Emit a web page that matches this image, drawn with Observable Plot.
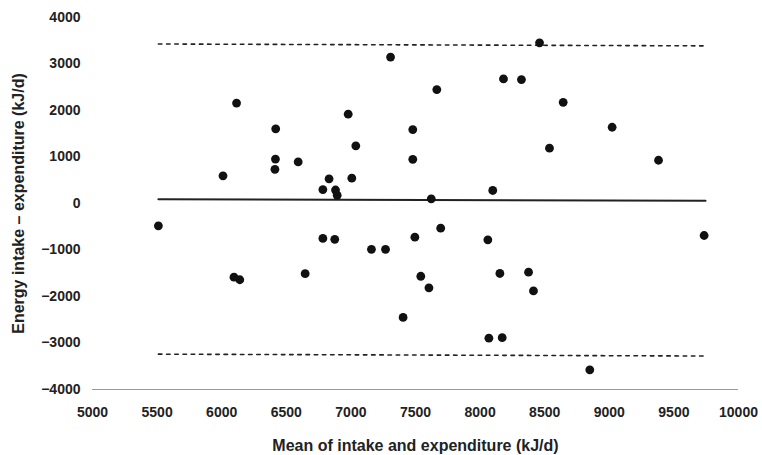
<!DOCTYPE html>
<html>
<head>
<meta charset="utf-8">
<script src="https://cdn.jsdelivr.net/npm/d3@7"></script>
<script src="https://cdn.jsdelivr.net/npm/@observablehq/plot@0.6"></script>
<style>
  html, body { margin: 0; padding: 0; background: #fff; }
  #chart { width: 762px; height: 455px; }
</style>
</head>
<body>
<div id="chart"></div>
<script>
// Mean of intake and expenditure (kJ/d)
const meanIntakeExpenditure = [
  5510, 6010, 6115, 6095, 6140, 6418, 6416, 6412, 6592, 6646,
  6783, 6831, 6881, 6894, 6979, 7007, 7038, 6783, 6875, 7159,
  7268, 7307, 7404, 7479, 7479, 7495, 7541, 7604, 7622, 7665,
  7695, 8060, 8068, 8098, 8153, 8171, 8181, 8320, 8375, 8413,
  8460, 8537, 8643, 8849, 9022, 9381, 9734
];
// Energy intake - expenditure (kJ/d)
const intakeMinusExpenditure = [
  -480, 595, 2160, -1585, -1640, 1605, 955, 735, 895, -1510,
  300, 530, 290, 175, 1920, 545, 1240, -750, -770, -985,
  -985, 3150, -2450, 1590, 950, -724, -1565, -1814, 100, 2450,
  -530, -782, -2896, 280, -1505, -2885, 2680, 2665, -1477, -1880,
  3455, 1190, 2175, -3577, 1640, 930, -688
];
// Reference lines (mean difference and limits of agreement), endpoints
const lineX = [5510, 9745];
const meanLine = [90, 60];
const upperLimit = [3430, 3390];
const lowerLimit = [-3240, -3280];

const xTicks = [5000, 5500, 6000, 6500, 7000, 7500, 8000, 8500, 9000, 9500, 10000];
const yTicks = [-4000, -3000, -2000, -1000, 0, 1000, 2000, 3000, 4000];
const xTitle = "Mean of intake and expenditure (kJ/d)";
const yTitle = "Energy intake \u2013 expenditure (kJ/d)";

const points = meanIntakeExpenditure.map((x, i) => ({x, y: intakeMinusExpenditure[i]}));

const chart = Plot.plot({
  width: 762,
  height: 455,
  marginLeft: 92,
  marginRight: 24,
  marginTop: 17,
  marginBottom: 66,
  style: {
    fontFamily: "'Liberation Sans', Arial, sans-serif",
    fontWeight: "bold",
    fontSize: "14px",
    color: "#222",
    background: "#fff"
  },
  x: {domain: [5000, 10000], ticks: xTicks, tickFormat: d => String(d), tickSize: 0, tickPadding: 18, label: null},
  y: {domain: [-4000, 4000], ticks: yTicks, tickFormat: d => (d < 0 ? "\u2212" + Math.abs(d) : String(d)), tickSize: 0, tickPadding: 12, label: null},
  marks: [
    Plot.ruleY([-4000], {stroke: "#9a9a9a", strokeWidth: 1.2}),
    Plot.line(lineX, {x: lineX, y: upperLimit, stroke: "#222", strokeWidth: 1.6, strokeDasharray: "3.5 4.7"}),
    Plot.line(lineX, {x: lineX, y: lowerLimit, stroke: "#222", strokeWidth: 1.6, strokeDasharray: "3.5 4.7"}),
    Plot.line(lineX, {x: lineX, y: meanLine, stroke: "#222", strokeWidth: 2}),
    Plot.dot(points, {x: "x", y: "y", r: 4.4, fill: "#111", stroke: "none"}),
    Plot.text([xTitle], {frameAnchor: "bottom", dy: 56, text: d => d, textAnchor: "middle", lineAnchor: "middle", fontSize: 16, fontWeight: "bold", fill: "#222"}),
    Plot.text([yTitle], {frameAnchor: "left", dx: -74, rotate: -90, text: d => d, textAnchor: "middle", lineAnchor: "middle", fontSize: 16, fontWeight: "bold", fill: "#222"})
  ]
});
document.getElementById("chart").appendChild(chart);
</script>
</body>
</html>
